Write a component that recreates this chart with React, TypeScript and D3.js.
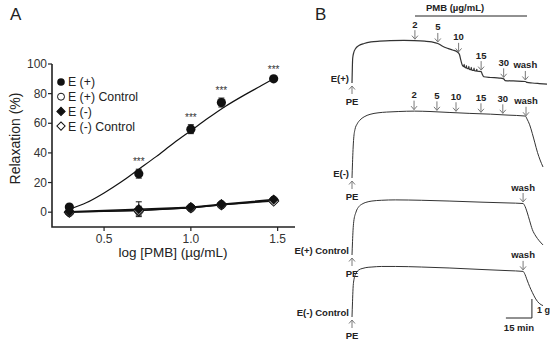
import React from "react";
import { scaleLinear, line, curveMonotoneX, curveLinear, symbol, symbolSquare, bisector } from "d3";

// ---------- Panel A data ----------
const doses = [0.3, 0.7, 1.0, 1.176, 1.477];
const ePlus = [3.5, 26, 56, 74, 90];
const ePlusErr = [1, 3, 3, 3, 1];
const ePlusCtrl = [0, 1, 3, 5, 8];
const ePlusCtrlErr = [0.5, 3, 0.5, 0.5, 0.5];
const eMinus = [0.3, 2, 3.3, 5.3, 8.5];
const eMinusErr = [0.5, 5, 0.5, 0.5, 1];
const eMinusCtrl = [0, 1.2, 3, 5, 7.5];
const eMinusCtrlErr = [0.5, 1.5, 0.5, 0.5, 0.5];
const sigStars = ["", "***", "***", "***", "***"];
// fitted curve for E(+)
const fitX = [0.3, 0.4, 0.5, 0.6, 0.7, 0.8, 0.9, 1.0, 1.1, 1.2, 1.3, 1.4, 1.477];
const fitY = [2, 6.5, 13, 20.5, 29, 37.5, 46.5, 55, 63.5, 71.5, 78.5, 85, 90];
const yTicks = [0, 20, 40, 60, 80, 100];
const xTicks = [0.5, 1.0, 1.5];
const legendItems = ["E (+)", "E (+) Control", "E (-)", "E (-) Control"];

// ---------- Panel B data (time in min, tension in g) ----------
const traceEPlus: [number, number][] = [
  [0, 0], [0.2, 0.8], [0.4, 1.3], [1, 1.6], [2, 1.8], [4, 1.97], [7, 2.08], [11, 2.16], [16, 2.2],
  [22, 2.23], [30, 2.24], [36, 2.23], [42, 2.2], [46, 2.16], [49.5, 2.08], [52, 1.95], [55, 1.83],
  [58, 1.74], [61, 1.62], [62, 1.5], [62.8, 1.2], [63.6, 0.95], [64.5, 0.86], [64.7, 0.98], [64.9, 0.85],
  [65.8, 0.8], [66, 0.92], [66.2, 0.79], [67.2, 0.75], [67.4, 0.87], [67.6, 0.74], [68.6, 0.7],
  [68.8, 0.82], [69, 0.69], [70.2, 0.66], [70.4, 0.78], [70.6, 0.65], [71.8, 0.63], [72, 0.72],
  [72.2, 0.62], [74.5, 0.6], [75.2, 0.45], [76, 0.33], [80, 0.29], [85, 0.26], [87.5, 0.22],
  [88.3, 0.13], [93, 0.11], [100, 0.08], [101, 0.03], [104, 0], [108, -0.03], [112.5, -0.06],
];
const traceEMinus: [number, number][] = [
  [0, 0], [0.3, 0.8], [0.6, 1.5], [1, 2.1], [1.7, 2.55], [3, 2.85], [4.6, 3.05], [7, 3.22],
  [10.4, 3.35], [15, 3.43], [20, 3.47], [27, 3.5], [36, 3.52], [45, 3.5], [56, 3.45], [68, 3.4],
  [80, 3.36], [90, 3.31], [100, 3.26], [101, 3.1], [102.5, 2.8], [104, 2.35], [105.5, 1.85],
  [107, 1.35], [108.5, 0.95], [110.2, 0.58],
];
const traceEPlusCtrl: [number, number][] = [
  [0, 0], [0.3, 0.7], [0.6, 1.3], [1, 1.75], [2.3, 2.26], [4, 2.55], [5.8, 2.68], [8, 2.77],
  [11.5, 2.84], [17, 2.88], [25, 2.9], [40, 2.88], [56, 2.84], [75, 2.78], [90, 2.74], [98.7, 2.71],
  [99.5, 2.62], [101, 2.26], [102.5, 1.8], [104, 1.35], [106, 1.0], [108, 0.75], [110.2, 0.53],
];
const traceEMinusCtrl: [number, number][] = [
  [0, 0], [0.3, 0.8], [0.6, 1.5], [1, 1.9], [2.3, 2.3], [4, 2.48], [5.8, 2.55], [8, 2.6],
  [11.5, 2.63], [17, 2.66], [25, 2.66], [40, 2.63], [56, 2.58], [75, 2.5], [90, 2.44], [98.7, 2.4],
  [99.5, 2.3], [101, 1.95], [102.5, 1.6], [104, 1.3], [106, 0.95], [108, 0.72], [110.2, 0.6],
];
const eventsEPlus = [
  { t: 36.3, label: "2" }, { t: 49.5, label: "5" }, { t: 61.5, label: "10" },
  { t: 74.5, label: "15" }, { t: 87.5, label: "30" }, { t: 100, label: "wash" },
];
const eventsEMinus = [
  { t: 35.8, label: "2" }, { t: 49, label: "5" }, { t: 60, label: "10" },
  { t: 74.4, label: "15" }, { t: 87, label: "30" }, { t: 100.4, label: "wash" },
];
const eventsCtrl = [{ t: 98.7, label: "wash" }];
const traceNames = ["E(+)", "E(-)", "E(+) Control", "E(-) Control"];
// scale bar start/end in minutes
const scaleBarMin = [88.8, 103.8];

const FONT = "'Liberation Sans', Arial, sans-serif";

function valueAt(data: [number, number][], t: number) {
  const i = bisector((d: [number, number]) => d[0]).left(data, t);
  if (i <= 0) return data[0][1];
  if (i >= data.length) return data[data.length - 1][1];
  const [t0, v0] = data[i - 1];
  const [t1, v1] = data[i];
  return v0 + ((v1 - v0) * (t - t0)) / (t1 - t0);
}

const PanelA = () => {
  const x = scaleLinear().domain([0.2, 1.6]).range([52, 295]);
  const y = scaleLinear().domain([-10, 100]).range([227, 64]);
  const fitLine = line<number>().x((d, i) => x(fitX[i])).y((d) => y(d)).curve(curveMonotoneX);
  const lowLine = line<number>().x((d, i) => x(doses[i])).y((d) => y(d)).curve(curveLinear);
  const diamond = symbol().type(symbolSquare).size(52)();
  const smallDiamond = symbol().type(symbolSquare).size(34)();

  const errBars = (vals: number[], errs: number[], key: string) =>
    vals.map((v, i) => (
      <g key={key + i} stroke="#111" strokeWidth={1}>
        <line x1={x(doses[i])} x2={x(doses[i])} y1={y(v - errs[i])} y2={y(v + errs[i])} />
        <line x1={x(doses[i]) - 3} x2={x(doses[i]) + 3} y1={y(v + errs[i])} y2={y(v + errs[i])} />
        <line x1={x(doses[i]) - 3} x2={x(doses[i]) + 3} y1={y(v - errs[i])} y2={y(v - errs[i])} />
      </g>
    ));

  return (
    <g fontFamily={FONT}>
      <text x={10} y={20} fontSize={17} fill="#222">A</text>
      {/* axes */}
      <path d={`M${x(0.2)},${y(100)}V${y(-10)}H${x(1.6)}`} fill="none" stroke="#222" strokeWidth={1.6} />
      {yTicks.map((t) => (
        <g key={"yt" + t}>
          <line x1={x(0.2) - 4} x2={x(0.2)} y1={y(t)} y2={y(t)} stroke="#222" strokeWidth={1.2} />
          <text x={x(0.2) - 5} y={y(t)} dy="0.35em" textAnchor="end" fontSize={12} fill="#333">{t}</text>
        </g>
      ))}
      {xTicks.map((t) => (
        <g key={"xt" + t}>
          <line x1={x(t)} x2={x(t)} y1={y(-10)} y2={y(-10) + 4} stroke="#222" strokeWidth={1.2} />
          <text x={x(t)} y={y(-10) + 16} textAnchor="middle" fontSize={12} fill="#333">{t.toFixed(1)}</text>
        </g>
      ))}
      <text x={173} y={257} textAnchor="middle" fontSize={13.5} fill="#222">log [PMB] (µg/mL)</text>
      <text transform={`translate(20,${(y(100) + y(-10)) / 2 - 7}) rotate(-90)`} textAnchor="middle" fontSize={14} fill="#222">
        Relaxation (%)
      </text>

      {/* lines */}
      <path d={lowLine(ePlusCtrl) || ""} fill="none" stroke="#111" strokeWidth={1.3} />
      <path d={lowLine(eMinusCtrl) || ""} fill="none" stroke="#111" strokeWidth={1.3} />
      <path d={lowLine(eMinus) || ""} fill="none" stroke="#111" strokeWidth={1.5} />
      <path d={fitLine(fitY) || ""} fill="none" stroke="#111" strokeWidth={1.2} />

      {/* error bars */}
      {errBars(ePlusCtrl, ePlusCtrlErr, "epc")}
      {errBars(eMinusCtrl, eMinusCtrlErr, "emc")}
      {errBars(eMinus, eMinusErr, "em")}
      {errBars(ePlus, ePlusErr, "ep")}

      {/* markers */}
      {ePlusCtrl.map((v, i) => (
        <circle key={"pc" + i} cx={x(doses[i])} cy={y(v)} r={4.3} fill="#fff" stroke="#111" strokeWidth={1} />
      ))}
      {eMinusCtrl.map((v, i) => (
        <path key={"mc" + i} d={diamond || ""} transform={`translate(${x(doses[i])},${y(v)}) rotate(45)`} fill="#fff" stroke="#111" strokeWidth={1} />
      ))}
      {eMinus.map((v, i) => (
        <path key={"m" + i} d={diamond || ""} transform={`translate(${x(doses[i])},${y(v)}) rotate(45)`} fill="#111" />
      ))}
      {ePlus.map((v, i) => (
        <circle key={"p" + i} cx={x(doses[i])} cy={y(v)} r={4.6} fill="#111" />
      ))}
      {ePlus.map((v, i) => (
        <text key={"s" + i} x={x(doses[i])} y={y(v + ePlusErr[i]) - 4} textAnchor="middle" fontSize={10} fill="#333">
          {sigStars[i]}
        </text>
      ))}

      {/* legend */}
      {legendItems.map((name, i) => {
        const ly = 82 + i * 14.7;
        const lx = 61;
        let marker;
        if (i === 0) marker = <circle cx={lx} cy={ly} r={3.8} fill="#111" />;
        else if (i === 1) marker = <circle cx={lx} cy={ly} r={3.5} fill="#fff" stroke="#111" strokeWidth={1} />;
        else
          marker = (
            <path d={smallDiamond || ""} transform={`translate(${lx},${ly}) rotate(45)`} fill={i === 2 ? "#111" : "#fff"} stroke="#111" strokeWidth={1} />
          );
        return (
          <g key={"lg" + i}>
            {marker}
            <text x={lx + 7} y={ly} dy="0.36em" fontSize={12.3} fill="#222">{name}</text>
          </g>
        );
      })}
    </g>
  );
};

const PanelB = () => {
  const t = scaleLinear().domain([0, 15]).range([352, 378]);
  const g = scaleLinear().domain([0, 1]).range([0, -19]);
  const baselines = [83, 178, 255, 317];
  const traces = [traceEPlus, traceEMinus, traceEPlusCtrl, traceEMinusCtrl];
  const events = [eventsEPlus, eventsEMinus, eventsCtrl, eventsCtrl];
  const traceLine = line<[number, number]>().x((d) => t(d[0])).y((d) => g(d[1])).curve(curveMonotoneX);
  const arrowCol = "#7a7a7a";

  return (
    <g fontFamily={FONT}>
      <text x={315} y={20} fontSize={17} fill="#222">B</text>
      <text x={455} y={11} textAnchor="middle" fontSize={9.5} fontWeight="bold" fill="#222">PMB (µg/mL)</text>
      <line x1={415} x2={527} y1={16} y2={16} stroke="#222" strokeWidth={1} />

      {traces.map((tr, k) => (
        <g key={"tr" + k} transform={`translate(0,${baselines[k]})`}>
          <path d={traceLine(tr) || ""} fill="none" stroke="#333" strokeWidth={k === 0 ? 1.2 : 1} />
          {/* drug additions */}
          {events[k].map((ev, j) => {
            const ex = t(ev.t);
            const ey = g(valueAt(tr, ev.t)) - 1.5;
            return (
              <g key={"ev" + j}>
                <line x1={ex} x2={ex} y1={ey - 9} y2={ey} stroke={arrowCol} strokeWidth={1} />
                <path d={`M${ex - 3},${ey - 3.5}L${ex},${ey}L${ex + 3},${ey - 3.5}`} fill="none" stroke={arrowCol} strokeWidth={1} />
                <text x={ex} y={ey - 11.5} textAnchor="middle" fontSize={9.5} fontWeight="bold" fill="#222">{ev.label}</text>
              </g>
            );
          })}
          {/* PE */}
          <line x1={t(0)} x2={t(0)} y1={3} y2={11} stroke={arrowCol} strokeWidth={1} />
          <path d={`M${t(0) - 3},${6.5}L${t(0)},${3}L${t(0) + 3},${6.5}`} fill="none" stroke={arrowCol} strokeWidth={1} />
          <text x={t(0)} y={22} textAnchor="middle" fontSize={9.5} fontWeight="bold" fill="#222">PE</text>
          <text x={t(0) - 3} y={-1} textAnchor="end" fontSize={9.5} fontWeight="bold" fill="#222">{traceNames[k]}</text>
        </g>
      ))}

      {/* scale bar: 1 g, 15 min */}
      <path d={`M${t(scaleBarMin[0])},${318}H${t(scaleBarMin[1])}V${318 + g(1)}`} fill="none" stroke="#222" strokeWidth={1} />
      <text x={t(scaleBarMin[1]) + 5} y={313} fontSize={9} fontWeight="bold" fill="#222">1 g</text>
      <text x={(t(scaleBarMin[0]) + t(scaleBarMin[1])) / 2} y={331} textAnchor="middle" fontSize={9.5} fontWeight="bold" fill="#222">15 min</text>
    </g>
  );
};

export default function App() {
  return (
    <svg width={550} height={345} style={{ position: "absolute", left: 0, top: 0, background: "#fff" }}>
      <rect width={550} height={345} fill="#fff" />
      <PanelA />
      <PanelB />
    </svg>
  );
}
